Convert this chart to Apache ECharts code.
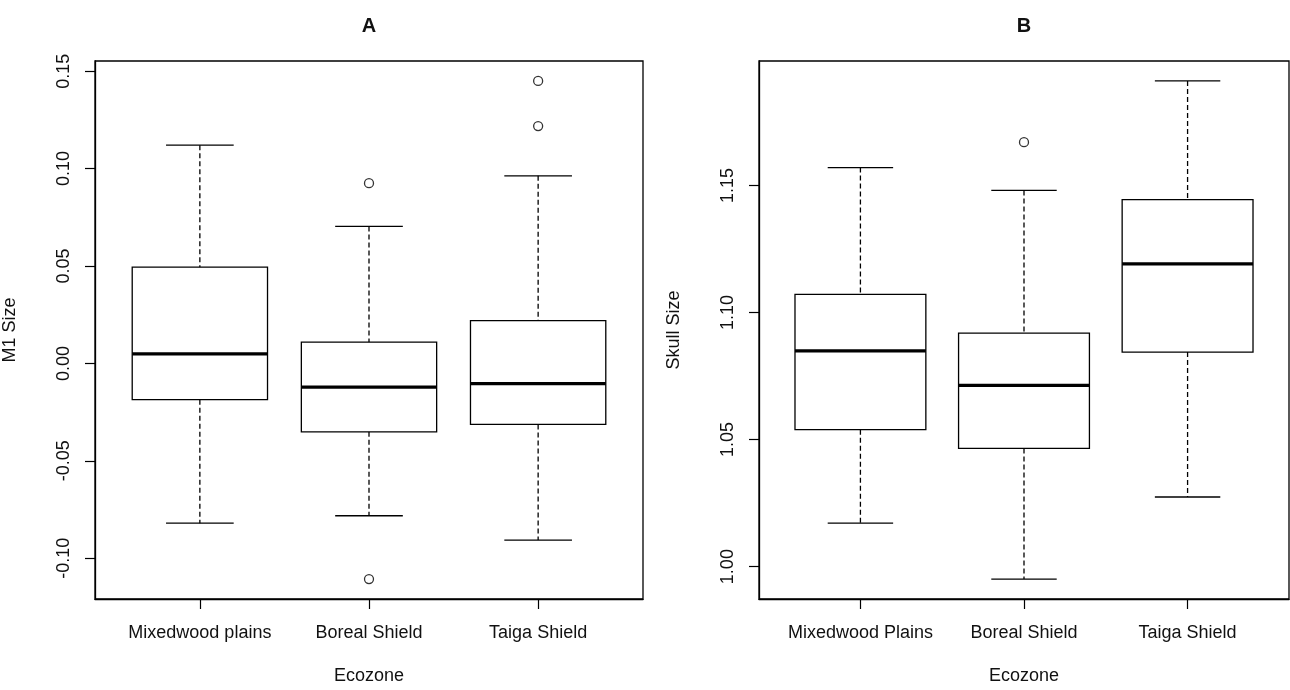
<!DOCTYPE html>
<html>
<head>
<meta charset="utf-8">
<script src="https://cdn.jsdelivr.net/npm/echarts@6/dist/echarts.min.js"></script>
<style>
  html, body { margin: 0; padding: 0; background: #fff; }
  #chart { width: 1290px; height: 690px; }
</style>
</head>
<body>
<div id="chart"></div>
<script>
// categories
const categoriesA = ['Mixedwood plains', 'Boreal Shield', 'Taiga Shield'];
const categoriesB = ['Mixedwood Plains', 'Boreal Shield', 'Taiga Shield'];

// box stats: [lower whisker, Q1, median, Q3, upper whisker]
const m1Boxes = [
  [-0.0820, -0.0186, 0.0049, 0.0494, 0.1120],
  [-0.0782, -0.0351, -0.0122, 0.0109, 0.0703],
  [-0.0907, -0.0313, -0.0104, 0.0220, 0.0963]
];
// outliers: [category index (1-based), value]
const m1Outliers = [[2, 0.0925], [2, -0.1107], [3, 0.1450], [3, 0.1218]];

const skullBoxes = [
  [1.0171, 1.0539, 1.0849, 1.1071, 1.1570],
  [0.9951, 1.0465, 1.0713, 1.0919, 1.1480],
  [1.0274, 1.0844, 1.1191, 1.1444, 1.1911]
];
const skullOutliers = [[2, 1.1670]];

const m1Ticks = [-0.10, -0.05, 0.00, 0.05, 0.10, 0.15];
const skullTicks = [1.00, 1.05, 1.10, 1.15];
const xTicks = [1, 2, 3];

const FONT = 'Liberation Sans, Arial, sans-serif';
const INK = '#111';

// R style range: data range padded by 4%
function rRange(boxes, outs) {
  let vals = [];
  boxes.forEach(b => { vals.push(b[0], b[4]); });
  outs.forEach(o => vals.push(o[1]));
  let lo = Math.min.apply(null, vals), hi = Math.max.apply(null, vals);
  let pad = (hi - lo) * 0.04;
  return [lo - pad, hi + pad];
}

function boxRender(params, api) {
  let x = api.value(0);
  let lo = api.coord([x, api.value(1)]);
  let q1 = api.coord([x, api.value(2)]);
  let med = api.coord([x, api.value(3)]);
  let q3 = api.coord([x, api.value(4)]);
  let hi = api.coord([x, api.value(5)]);
  let halfBox = api.size([0.8, 0])[0] / 2;
  let halfCap = halfBox / 2;
  let cx = lo[0];
  let solid = { stroke: '#000', lineWidth: 1.3 };
  let dashed = { stroke: '#000', lineWidth: 1.3, lineDash: [5, 3] };
  return {
    type: 'group',
    children: [
      { type: 'line', shape: { x1: cx, y1: hi[1], x2: cx, y2: q3[1] }, style: dashed },
      { type: 'line', shape: { x1: cx, y1: q1[1], x2: cx, y2: lo[1] }, style: dashed },
      { type: 'line', shape: { x1: cx - halfCap, y1: hi[1], x2: cx + halfCap, y2: hi[1] }, style: solid },
      { type: 'line', shape: { x1: cx - halfCap, y1: lo[1], x2: cx + halfCap, y2: lo[1] }, style: solid },
      { type: 'rect', shape: { x: cx - halfBox, y: q3[1], width: halfBox * 2, height: q1[1] - q3[1] },
        style: { fill: '#fff', stroke: '#000', lineWidth: 1.3 } },
      { type: 'line', shape: { x1: cx - halfBox, y1: med[1], x2: cx + halfBox, y2: med[1] },
        style: { stroke: '#000', lineWidth: 3.2 } }
    ]
  };
}

function xAxisFor(gridIndex, cats) {
  return {
    type: 'value', gridIndex: gridIndex, min: 0.38, max: 3.62,
    name: 'Ecozone', nameLocation: 'middle', nameGap: 68,
    nameTextStyle: { fontFamily: FONT, fontSize: 18, color: INK },
    axisLine: { show: true, onZero: false, lineStyle: { color: '#000', width: 1.3 } },
    axisTick: { show: true, customValues: xTicks, length: 10, lineStyle: { color: '#000', width: 1.2 } },
    axisLabel: {
      customValues: xTicks, margin: 25, fontFamily: FONT, fontSize: 18, color: INK,
      formatter: v => cats[Math.round(v) - 1]
    },
    splitLine: { show: false }
  };
}

function yAxisFor(gridIndex, name, range, ticks) {
  return {
    type: 'value', gridIndex: gridIndex, min: range[0], max: range[1],
    name: name, nameLocation: 'middle', nameGap: 76, nameRotate: 90,
    nameTextStyle: { fontFamily: FONT, fontSize: 18, color: INK },
    axisLine: { show: true, onZero: false, lineStyle: { color: '#000', width: 1.3 } },
    axisTick: { show: true, customValues: ticks, length: 10, lineStyle: { color: '#000', width: 1.2 } },
    axisLabel: {
      customValues: ticks, rotate: 90, margin: 22, fontFamily: FONT, fontSize: 18, color: INK,
      formatter: v => v.toFixed(2)
    },
    splitLine: { show: false }
  };
}

function boxData(boxes) {
  return boxes.map((b, i) => [i + 1].concat(b));
}

let chart = echarts.init(document.getElementById('chart'), null, { renderer: 'canvas' });

let option = {
  backgroundColor: '#fff',
  animation: false,
  title: [
    { text: 'A', left: 364, top: 11, textAlign: 'center',
      textStyle: { fontFamily: FONT, fontSize: 20, fontWeight: 'bold', color: INK } },
    { text: 'B', left: 1019, top: 11, textAlign: 'center',
      textStyle: { fontFamily: FONT, fontSize: 20, fontWeight: 'bold', color: INK } }
  ],
  grid: [
    { left: 94, top: 61, width: 549, height: 543, show: true, borderColor: '#000', borderWidth: 1.3 },
    { left: 759, top: 61, width: 530, height: 543, show: true, borderColor: '#000', borderWidth: 1.3 }
  ],
  xAxis: [xAxisFor(0, categoriesA), xAxisFor(1, categoriesB)],
  yAxis: [
    yAxisFor(0, 'M1 Size', rRange(m1Boxes, m1Outliers), m1Ticks),
    yAxisFor(1, 'Skull Size', rRange(skullBoxes, skullOutliers), skullTicks)
  ],
  series: [
    {
      type: 'custom', xAxisIndex: 0, yAxisIndex: 0,
      renderItem: boxRender, encode: { x: 0, y: [1, 2, 3, 4, 5] },
      data: boxData(m1Boxes)
    },
    {
      type: 'scatter', xAxisIndex: 0, yAxisIndex: 0, symbol: 'circle', symbolSize: 9,
      itemStyle: { color: '#fff', borderColor: '#000', borderWidth: 1.3 },
      data: m1Outliers
    },
    {
      type: 'custom', xAxisIndex: 1, yAxisIndex: 1,
      renderItem: boxRender, encode: { x: 0, y: [1, 2, 3, 4, 5] },
      data: boxData(skullBoxes)
    },
    {
      type: 'scatter', xAxisIndex: 1, yAxisIndex: 1, symbol: 'circle', symbolSize: 9,
      itemStyle: { color: '#fff', borderColor: '#000', borderWidth: 1.3 },
      data: skullOutliers
    }
  ]
};

chart.setOption(option);
</script>
</body>
</html>
